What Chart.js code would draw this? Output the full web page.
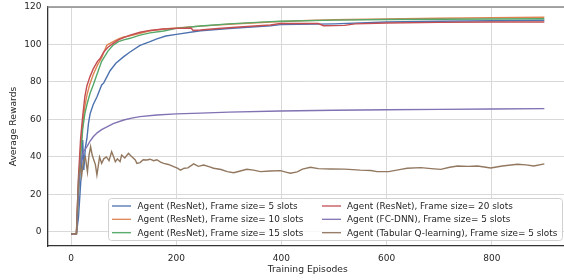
<!DOCTYPE html>
<html>
<head>
<meta charset="utf-8">
<script src="https://cdn.jsdelivr.net/npm/chart.js@4"></script>
<style>
  html, body { margin: 0; padding: 0; background: #fff; overflow: hidden; }
  #chart { display: block; }
</style>
</head>
<body>
<canvas id="chart" width="568" height="280"></canvas>
<script>
// 데이터
var xTicks = [0, 200, 400, 600, 800];
var yTicks = [0, 20, 40, 60, 80, 100, 120];

var res5Ep  = [0, 10, 14, 19, 22, 24, 27, 30, 33, 36, 42, 49, 58, 62, 74, 85, 100, 112, 131, 150, 163, 180, 200, 246, 300, 379, 398, 500, 600, 700, 800, 900];
var res5Val = [-1, -1, 8, 30, 49, 33, 45, 50, 58, 63, 68, 72, 78.4, 79.5, 86, 90, 93.5, 96, 99.5, 101.5, 103, 104.5, 105.4, 107.3, 108.5, 110, 110.6, 111, 112, 112.4, 112.7, 112.9];

var res10Ep  = [0, 10, 14, 18, 22, 26, 30, 35, 42, 50, 58, 68, 80, 90, 100, 112, 131, 150, 176, 200, 246, 300, 379, 450, 500, 600, 700, 800, 900];
var res10Val = [-1, -1, 25, 45, 58, 67, 73, 78.4, 84, 89, 93, 99.7, 101.5, 103, 104, 104.6, 106, 107.3, 108.3, 108.8, 109.8, 110.8, 112, 112.8, 113.2, 113.6, 114, 114.3, 114.5];

var res15Ep  = [0, 10, 14, 18, 22, 26, 30, 36, 42, 49, 58, 70, 80, 90, 100, 112, 131, 150, 176, 200, 246, 300, 379, 398, 500, 600, 700, 800, 900];
var res15Val = [-1, -1, 20, 40, 55, 63, 68, 74, 78.4, 84, 91, 96.5, 99.7, 101.5, 102.5, 103.3, 105, 106.2, 107.2, 108.6, 109.9, 111, 112.2, 112.4, 113, 113.3, 113.5, 113.6, 113.7];

var res20Ep  = [0, 10, 14, 18, 22, 26, 30, 36, 42, 50, 55, 62, 70, 80, 90, 100, 112, 131, 150, 176, 200, 228, 232, 246, 280, 320, 379, 398, 470, 480, 520, 540, 600, 700, 800, 900];
var res20Val = [-1, -1, 30, 50, 62, 72, 78, 83, 87, 91, 92.5, 96, 98.5, 100.6, 102.5, 103.7, 105, 106.5, 107.5, 108.3, 108.6, 108.8, 107.5, 107.7, 108.5, 109.3, 110.4, 111.2, 111.2, 110, 110.2, 111, 111.5, 111.8, 112, 112];

var fcEp  = [0, 10, 12, 14, 17, 20, 24, 30, 36, 42, 50, 58, 68, 80, 100, 115, 131, 163, 200, 246, 300, 398, 500, 600, 700, 800, 900];
var fcVal = [-1, -1, 10, 22, 35, 40, 43, 45.5, 48.5, 50.8, 53, 54.6, 56, 57.8, 59.7, 60.7, 61.5, 62.4, 63, 63.4, 63.9, 64.5, 64.9, 65.2, 65.4, 65.6, 65.8];

var tabEp  = [0, 10, 12, 14, 17, 20, 23, 27, 31, 34, 37, 40, 42, 46, 49, 52, 54, 58, 62, 67, 72, 77, 81, 84, 88, 93, 96, 102, 109, 114, 122, 125, 131, 137, 144, 150, 157, 163, 170, 176, 185, 195, 202, 208, 215, 222, 233, 242, 252, 262, 271, 285, 297, 309, 320, 334, 347, 360, 379, 398, 410, 417, 430, 440, 455, 470, 493, 520, 550, 570, 582, 604, 627, 639, 665, 685, 703, 720, 735, 755, 773, 798, 820, 849, 865, 880, 900];
var tabVal = [-1, -1, 15, 28, 36.6, 30, 37, 40, 32, 41, 45.5, 41, 39.3, 36, 30.4, 36, 40, 36.6, 39, 40, 38, 42.8, 40, 37.5, 39, 37.5, 41, 39.5, 42, 40.5, 38.4, 36.6, 37, 38.5, 38.4, 38.8, 38, 38.5, 37.3, 36.6, 36, 34.8, 34, 33, 34, 34.2, 36.3, 35, 35.7, 34.8, 34, 33.3, 32.2, 31.6, 32.4, 33.4, 33, 32.2, 32.5, 32.7, 31.8, 31.3, 32, 33.5, 34.5, 33.8, 33.6, 33.5, 33, 32.8, 32.2, 32.2, 33.4, 34, 34.3, 33.8, 33.4, 34.5, 35.2, 35, 35.2, 34.1, 35.2, 36.1, 35.8, 35.2, 36.3];

var seriesLabels = [
    'Agent (ResNet), Frame size= 5 slots',
    'Agent (ResNet), Frame size= 10 slots',
    'Agent (ResNet), Frame size= 15 slots',
    'Agent (ResNet), Frame size= 20 slots',
    'Agent (FC-DNN), Frame size= 5 slots',
    'Agent (Tabular Q-learning), Frame size= 5 slots'
];
var seriesColors = ['#4C72B0', '#DD8452', '#55A868', '#C44E52', '#8172B3', '#937860'];
var seriesEp = [res5Ep, res10Ep, res15Ep, res20Ep, fcEp, tabEp];
var seriesVal = [res5Val, res10Val, res15Val, res20Val, fcVal, tabVal];

var FONT = "'DejaVu Sans', sans-serif";
var TEXT = '#262626';

function toPoints(xs, ys) {
    return xs.map(function (x, i) { return { x: x, y: ys[i] }; });
}

var datasets = seriesLabels.map(function (label, i) {
    return {
        label: label,
        data: toPoints(seriesEp[i], seriesVal[i]),
        borderColor: seriesColors[i],
        backgroundColor: seriesColors[i],
        borderWidth: 1.4,
        pointRadius: 0,
        tension: 0,
        order: seriesLabels.length - i
    };
});

// 범례, 축 제목, 위쪽 테두리
var decorPlugin = {
    id: 'decor',
    afterDatasetsDraw: function (chart) {
        var ctx = chart.ctx;
        var area = chart.chartArea;
        ctx.save();

        // 위쪽 테두리
        ctx.strokeStyle = '#8a8a8a';
        ctx.lineWidth = 1.5;
        ctx.beginPath();
        ctx.moveTo(area.left, area.top);
        ctx.lineTo(area.right, area.top);
        ctx.stroke();

        // 범례 상자
        var bx = 108.5, by = 198.5, bw = 454, bh = 42, r = 3;
        ctx.fillStyle = 'rgba(255,255,255,0.8)';
        ctx.strokeStyle = '#d0d0d0';
        ctx.lineWidth = 1;
        ctx.beginPath();
        ctx.moveTo(bx + r, by);
        ctx.lineTo(bx + bw - r, by);
        ctx.arcTo(bx + bw, by, bx + bw, by + r, r);
        ctx.lineTo(bx + bw, by + bh - r);
        ctx.arcTo(bx + bw, by + bh, bx + bw - r, by + bh, r);
        ctx.lineTo(bx + r, by + bh);
        ctx.arcTo(bx, by + bh, bx, by + bh - r, r);
        ctx.lineTo(bx, by + r);
        ctx.arcTo(bx, by, bx + r, by, r);
        ctx.closePath();
        ctx.fill();
        ctx.stroke();

        var colX = [[112, 131, 137.5], [322, 341, 347]];
        var rowY = [206, 219.3, 232.7];
        ctx.font = '8.9px ' + FONT;
        ctx.textBaseline = 'middle';
        ctx.textAlign = 'left';
        chart.data.datasets.forEach(function (ds, i) {
            var c = colX[Math.floor(i / 3)];
            var y = rowY[i % 3];
            ctx.strokeStyle = ds.borderColor;
            ctx.lineWidth = 1.3;
            ctx.beginPath();
            ctx.moveTo(c[0], y);
            ctx.lineTo(c[1], y);
            ctx.stroke();
            ctx.fillStyle = TEXT;
            ctx.fillText(ds.label, c[2], y + 0.5);
        });

        // 축 제목
        ctx.font = '9.2px ' + FONT;
        ctx.fillStyle = TEXT;
        ctx.textAlign = 'center';
        ctx.textBaseline = 'middle';
        ctx.fillText('Training Episodes', (area.left + area.right) / 2, 269.5);
        ctx.translate(14, (area.top + area.bottom) / 2);
        ctx.rotate(-Math.PI / 2);
        ctx.fillText('Average Rewards', 0, 0);
        ctx.restore();
    }
};

function keepTicks(list) {
    return function (scale) {
        scale.ticks = list.map(function (v) { return { value: v }; });
    };
}

new Chart(document.getElementById('chart').getContext('2d'), {
    type: 'line',
    data: { datasets: datasets },
    options: {
        responsive: false,
        animation: false,
        devicePixelRatio: 1,
        layout: { padding: { top: 7, left: 0, right: 0, bottom: 0 } },
        plugins: {
            legend: { display: false },
            tooltip: { enabled: false }
        },
        scales: {
            x: {
                type: 'linear',
                min: -45,
                max: 945,
                afterBuildTicks: keepTicks(xTicks),
                afterFit: function (scale) {
                    scale.height = 34;
                    scale.paddingLeft = 0;
                    scale.paddingRight = 0;
                },
                grid: { color: '#d9d9d9', lineWidth: 1, drawTicks: false },
                border: { color: '#333333', width: 1.3 },
                ticks: { font: { family: FONT, size: 9 }, color: TEXT, padding: 7, maxRotation: 0 }
            },
            y: {
                type: 'linear',
                min: -7.5,
                max: 120,
                afterBuildTicks: keepTicks(yTicks),
                afterFit: function (scale) {
                    scale.width = 47.5;
                    scale.paddingTop = 0;
                    scale.paddingBottom = 0;
                },
                grid: { color: '#d9d9d9', lineWidth: 1, drawTicks: false },
                border: { color: '#333333', width: 1.3 },
                ticks: { font: { family: FONT, size: 9 }, color: TEXT, padding: 6 }
            }
        }
    },
    plugins: [decorPlugin]
});
</script>
</body>
</html>
